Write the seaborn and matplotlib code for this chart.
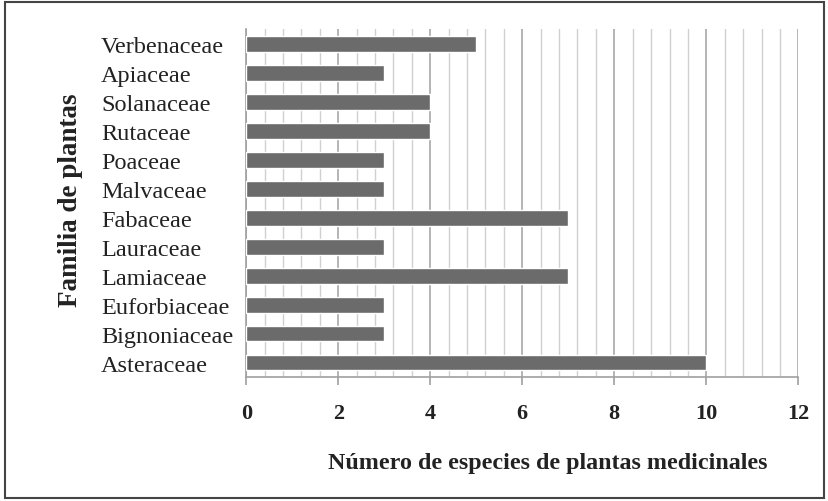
import numpy as np
import pandas as pd
import seaborn as sns
import matplotlib.pyplot as plt
from matplotlib.ticker import MultipleLocator

familias = ["Verbenaceae", "Apiaceae", "Solanaceae", "Rutaceae", "Poaceae",
            "Malvaceae", "Fabaceae", "Lauraceae", "Lamiaceae", "Euforbiaceae",
            "Bignoniaceae", "Asteraceae"]
especies = [5, 3, 4, 4, 3, 3, 7, 3, 7, 3, 3, 10]

df = pd.DataFrame({"familia": familias, "especies": especies})

sns.set_style("white")
plt.rcParams['font.family'] = ['Liberation Serif', 'DejaVu Serif']

fig = plt.figure(figsize=(8.29, 5.02), dpi=100)
ax = fig.add_axes([0.297, 0.247, 0.666, 0.693])

sns.barplot(data=df, x="especies", y="familia", order=familias, color="#6b6b6b",
            width=0.55, saturation=1, ax=ax, zorder=3)

ax.set_xlim(0, 12)
ax.set_ylim(11.5, -0.5)
ax.xaxis.set_major_locator(MultipleLocator(2))
ax.xaxis.set_minor_locator(MultipleLocator(0.4))
ax.grid(which="minor", axis="x", color="#d0d0d0", lw=1, zorder=0)
ax.grid(which="major", axis="x", color="#a8a8a8", lw=1.2, zorder=0)
ax.set_axisbelow(True)

for s in ["top", "right"]:
    ax.spines[s].set_visible(False)
for s in ["left", "bottom"]:
    ax.spines[s].set_color("#a0a0a0")
    ax.spines[s].set_linewidth(1.2)

# numbers on x axis are bold-ish in the reference
ax.tick_params(axis="x", which="major", bottom=True, length=6, width=1.2,
               color="#a0a0a0", pad=13, labelsize=16, labelcolor="#222222")
ax.tick_params(axis="x", which="minor", bottom=False)
for t in ax.get_xticklabels():
    t.set_fontweight("bold")

# y labels are left aligned in a column starting at x~103 px
ax.tick_params(axis="y", left=False, pad=101, labelsize=17.5, labelcolor="#222222")
for t in ax.get_yticklabels():
    t.set_horizontalalignment("left")

ax.set_xlabel("Número de especies de plantas medicinales", fontsize=17.3,
              fontweight="bold", color="#222222")
ax.xaxis.set_label_coords(0.547, -0.215)
ax.set_ylabel("Familia de plantas", fontsize=19.5, fontweight="bold", color="#222222")
ax.yaxis.set_label_coords(-0.295, 0.51)

fig.add_artist(plt.Rectangle((0.006, 0.006), 0.988, 0.988, transform=fig.transFigure,
                             fill=False, edgecolor="#444444", lw=1.5))

fig.savefig("out.png", dpi=100)
